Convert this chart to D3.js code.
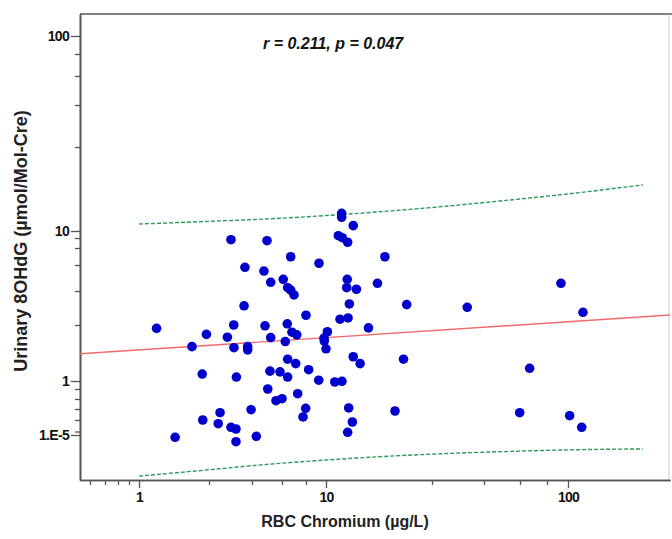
<!DOCTYPE html>
<html>
<head>
<meta charset="utf-8">
<script src="https://cdn.jsdelivr.net/npm/d3@7"></script>
<style>
  body { margin: 0; background: #fff; }
  svg { display: block; font-family: "Liberation Sans", Arial, sans-serif; }
</style>
</head>
<body>
<div id="chart"></div>
<script>
// RBC chromium (ug/L) vs urinary 8OHdG, one entry per subject
const chromium = [11.08, 11.08, 11.95, 2.85, 4.90, 10.84, 11.12, 11.52, 6.66, 9.25,
  14.7, 3.57, 4.70, 6.09, 5.15, 11.49, 14.0, 6.42, 6.66, 11.45,
  12.2, 6.93, 11.65, 3.52, 8.0, 10.96, 11.55, 1.19, 2.98, 4.77,
  6.39, 13.2, 1.95, 2.69, 5.15, 6.76, 7.16, 10.09, 9.78, 6.24,
  1.69, 2.99, 3.73, 3.73, 9.81, 10.0, 11.95, 12.5, 6.42, 7.07,
  1.87, 3.11, 5.10, 5.84, 6.42, 8.24, 9.22, 10.59, 11.10, 4.95,
  7.24, 5.53, 6.0, 15.7, 2.39, 3.94, 7.97, 7.72, 11.6, 1.88,
  2.32, 2.85, 3.09, 11.88, 1.43, 3.09, 4.24, 11.52, 16.95, 32.0,
  92.8, 117.5, 16.6, 66.5, 59.8, 101.8, 115.9];
const ohdg = [11.57, 11.2, 10.45, 8.82, 8.72, 9.32, 9.04, 8.56, 6.90, 6.18,
  6.90, 5.79, 5.46, 4.80, 4.58, 4.80, 4.51, 4.21, 4.06, 4.21,
  4.11, 3.69, 3.07, 2.96, 2.44, 2.25, 2.31, 1.92, 2.0, 1.98,
  2.05, 1.93, 1.78, 1.72, 1.71, 1.83, 1.77, 1.84, 1.70, 1.63,
  1.53, 1.51, 1.53, 1.47, 1.64, 1.49, 1.35, 1.24, 1.31, 1.24,
  1.09, 1.05, 1.13, 1.12, 1.05, 1.15, 1.01, 0.972, 0.992, 0.80,
  0.699, 0.56, 0.605, 0.353, 0.317, 0.383, 0.412, 0.242, 0.417, 0.2,
  0.0174, 0.00161, 0.000525, 0.0534, 8.89e-6, 7.1e-6, 9.36e-6, 5.95e-5, 3.03, 2.87,
  4.51, 2.59, 1.31, 1.17, 0.317, 0.262, 0.00161];

// fit line and prediction band
const fitX = [0.1, 300];
const fitY = [1.40, 2.45];
const bandX = [1, 2, 4, 10, 20, 50, 100, 224];
const bandUpper = [10.59, 10.83, 10.98, 11.36, 12.14, 12.85, 13.58, 14.63];
const bandLower = [1.22e-6, 1.69e-6, 2.08e-6, 2.78e-6, 3.76e-6, 4.28e-6, 4.67e-6, 4.91e-6];

// ticks
const xMajorTicks = [1, 10, 100];
const xMinorTicks = [0.2, 0.4, 0.6, 0.8, 2, 4, 6, 8, 20, 40, 60, 80];
const yMajorTicks = [1e-5, 1, 10, 100];
const yTickLabels = ["1.E-5", "1", "10", "100"];
const yMinorTicks = [0.2, 0.4, 0.6, 0.8, 2, 4, 6, 8, 9, 20, 40, 60, 80];

const statText = "r = 0.211, p = 0.047";

const width = 672, height = 539;
const plot = { left: 80, right: 669, top: 14, bottom: 480 };

const svg = d3.select('#chart')
  .append('svg')
  .attr('width', width)
  .attr('height', height);

// the axes of the original are not evenly spaced per decade,
// so both scales are piecewise log through the printed ticks
const x = d3.scaleLog()
  .domain([0.1, 0.2, 0.4, 0.6, 0.8, 1, 2, 4, 6, 8, 10, 20, 40, 60, 80, 100, 300])
  .range([80, 90, 105, 118, 129, 139, 209, 252, 282, 306, 326, 432, 484, 520, 547, 568, 670]);

const y = d3.scaleLog()
  .domain([1e-6, 1e-5, 0.2, 0.4, 0.6, 0.8, 1, 2, 4, 6, 8, 9, 10, 20, 40, 60, 80, 100, 130])
  .range([480, 435, 420, 409, 399, 389, 381, 325, 291, 265, 248, 238, 231, 147, 105, 76, 54, 36, 14]);

// frame
svg.append('line')
  .attr('x1', plot.left).attr('x2', width)
  .attr('y1', plot.top).attr('y2', plot.top)
  .attr('stroke', '#555').attr('stroke-width', 1.5);
svg.append('line')
  .attr('x1', plot.right).attr('x2', plot.right)
  .attr('y1', plot.top).attr('y2', plot.bottom)
  .attr('stroke', '#ccc').attr('stroke-width', 1);

// axes
const yAxisG = svg.append('g').attr('transform', `translate(${plot.left},0)`);
yAxisG.call(d3.axisLeft(y).tickValues(yMinorTicks).tickFormat('').tickSize(5).tickSizeOuter(0));
yAxisG.append('g').call(d3.axisLeft(y).tickValues(yMajorTicks)
  .tickFormat((d, i) => yTickLabels[i]).tickSize(9).tickSizeOuter(0).tickPadding(2));
// axis break mark beside 1.E-5
yAxisG.append('line')
  .attr('x1', -5).attr('x2', 0)
  .attr('y1', y(1e-5) - 3).attr('y2', y(1e-5) - 3);

const xAxisG = svg.append('g').attr('transform', `translate(0,${plot.bottom})`);
xAxisG.call(d3.axisBottom(x).tickValues(xMinorTicks).tickFormat('').tickSize(5).tickSizeOuter(0));
xAxisG.append('g').call(d3.axisBottom(x).tickValues(xMajorTicks)
  .tickFormat(d3.format('d')).tickSize(8).tickSizeOuter(0).tickPadding(4));

svg.selectAll('.domain').attr('stroke', '#555').attr('stroke-width', 1.6);
svg.selectAll('.tick line').attr('stroke', '#555').attr('stroke-width', 1.3);
yAxisG.selectAll('line').attr('stroke', '#555').attr('stroke-width', 1.3);
svg.selectAll('.tick text')
  .style('font-size', '14px')
  .style('font-weight', 'bold')
  .style('letter-spacing', '-0.7px')
  .attr('fill', '#111');

// prediction band
const bandLine = d3.line().curve(d3.curveMonotoneX);
[bandUpper, bandLower].forEach(vals => {
  svg.append('path')
    .attr('d', bandLine(bandX.map((d, i) => [x(d), y(vals[i])])))
    .attr('fill', 'none')
    .attr('stroke', '#2f9a5a')
    .attr('stroke-width', 1.4)
    .attr('stroke-dasharray', '4,2');
});

// fit line
svg.append('line')
  .attr('x1', x(fitX[0])).attr('y1', y(fitY[0]))
  .attr('x2', x(fitX[1])).attr('y2', y(fitY[1]))
  .attr('stroke', '#f26a6a')
  .attr('stroke-width', 1.4);

// points
svg.append('g')
  .selectAll('circle')
  .data(chromium)
  .enter()
  .append('circle')
  .attr('cx', d => x(d))
  .attr('cy', (d, i) => y(ohdg[i]))
  .attr('r', 4.8)
  .attr('fill', '#0000cc');

// stat annotation
svg.append('text')
  .attr('x', 263).attr('y', 49)
  .style('font-size', '16px')
  .style('font-weight', 'bold')
  .style('font-style', 'italic')
  .attr('fill', '#111')
  .text(statText);

// axis titles
svg.append('text')
  .attr('x', 345).attr('y', 527)
  .attr('text-anchor', 'middle')
  .style('font-size', '16px')
  .style('font-weight', 'bold')
  .attr('fill', '#222')
  .text('RBC Chromium (µg/L)');

svg.append('text')
  .attr('transform', 'translate(27,241) rotate(-90)')
  .attr('text-anchor', 'middle')
  .style('font-size', '18px')
  .style('font-weight', 'bold')
  .attr('fill', '#222')
  .text('Urinary 8OHdG (µmol/Mol-Cre)');
</script>
</body>
</html>
